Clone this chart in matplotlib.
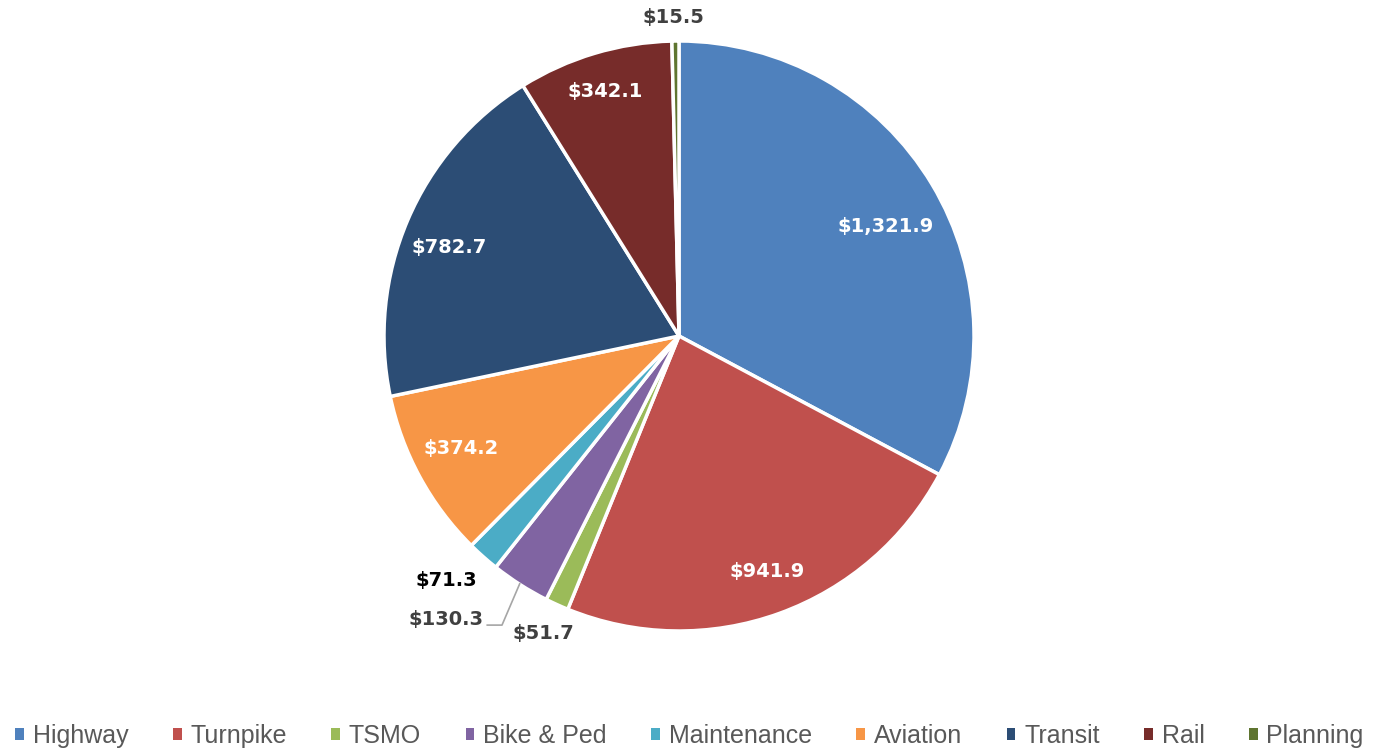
import matplotlib.pyplot as plt
from matplotlib.patches import Patch
import numpy as np

categories = ['Highway', 'Turnpike', 'TSMO', 'Bike & Ped', 'Maintenance',
              'Aviation', 'Transit', 'Rail', 'Planning']
values = [1321.9, 941.9, 51.7, 130.3, 71.3, 374.2, 782.7, 342.1, 15.5]
colors = ['#4F81BD', '#C0504D', '#9BBB59', '#8064A2', '#4BACC6',
          '#F79646', '#2C4D75', '#772C2A', '#5F7530']

# label placement (data units, pie radius = 1), style per label
label_pos = [(0.70, 0.37), (0.30, -0.80), (-0.46, -1.01), (-0.79, -0.96),
             (-0.79, -0.83), (-0.74, -0.38), (-0.78, 0.30), (-0.25, 0.83),
             (-0.02, 1.08)]
label_col = ['white', 'white', '#404040', '#404040', 'black',
             'white', 'white', 'white', '#404040']

fig = plt.figure(figsize=(13.79, 7.5), dpi=100)
cx, cy, r = 679, 336, 295
ax = fig.add_axes([(cx - r) / 1379, (750 - cy - r) / 750, 2 * r / 1379, 2 * r / 750])

wedges, _ = ax.pie(values, colors=colors, startangle=90, counterclock=False,
                   radius=1, wedgeprops=dict(edgecolor='white', linewidth=2.5))
ax.set_xlim(-1, 1)
ax.set_ylim(-1, 1)
ax.set_aspect('equal')
ax.axis('off')

for v, (x, y), c in zip(values, label_pos, label_col):
    ax.text(x, y, '${:,.1f}'.format(v), color=c, fontsize=14, fontweight='bold',
            ha='center', va='center', family='DejaVu Sans', clip_on=False)

# leader line for Bike & Ped
ax.plot([-0.54, -0.60, -0.65], [-0.84, -0.98, -0.98], color='#A6A6A6',
        lw=1.2, clip_on=False)

handles = [Patch(facecolor=c, edgecolor='none') for c in colors]
fig.legend(handles, categories, loc='lower center', bbox_to_anchor=(0.5, -0.027),
           ncol=len(categories), frameon=False, handlelength=0.35, handleheight=0.35,
           handletextpad=0.35, columnspacing=1.78,
           prop={'family': ['Liberation Sans', 'DejaVu Sans'], 'size': 18},
           labelcolor='#595959')

fig.savefig('out.png', dpi=100)
